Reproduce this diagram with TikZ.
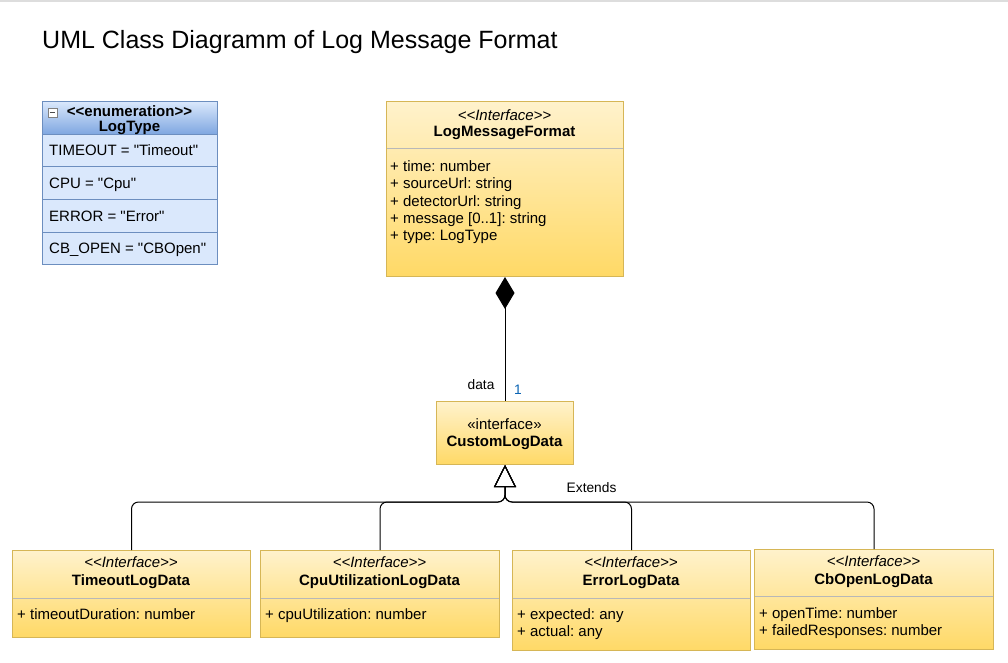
\documentclass[tikz,border=0pt]{standalone}
\usepackage{fontspec}
\setmainfont{Liberation Sans}[Ligatures=TeXOff]
\frenchspacing
\usetikzlibrary{arrows.meta,calc}
\definecolor{yTop}{HTML}{FFF2CC}
\definecolor{yBot}{HTML}{FFD966}
\definecolor{yStroke}{HTML}{D6B656}
\definecolor{sepGray}{HTML}{B8B8B8}
\definecolor{bTop}{HTML}{DAE8FC}
\definecolor{bBot}{HTML}{7EA6E0}
\definecolor{bStroke}{HTML}{6C8EBF}
\definecolor{topLine}{HTML}{DDDDDD}
\definecolor{multBlue}{HTML}{0A64B4}
\begin{document}
\begin{tikzpicture}[x=1pt,y=-1pt,
  ybox/.style={draw=yStroke, line width=1pt, top color=yTop, bottom color=yBot, rectangle, inner sep=0, anchor=north west},
  bhead/.style={draw=bStroke, line width=1pt, top color=bTop, bottom color=bBot, rectangle, inner sep=0, anchor=north west},
  brow/.style={draw=bStroke, line width=1pt, fill=bTop, rectangle, inner sep=0, anchor=north west},
  sepline/.style={draw=sepGray, line width=1pt},
  txt/.style={font=\fontsize{15}{18}\selectfont, inner sep=0, anchor=base},
  ltxt/.style={font=\fontsize{15}{18}\selectfont, inner sep=0, anchor=base west},
  stereo/.style={txt, font=\fontsize{15}{18}\selectfont\itshape},
  cname/.style={txt, font=\fontsize{15}{18}\selectfont\bfseries},
  small/.style={font=\fontsize{13.75}{16}\selectfont, inner sep=0, anchor=base west},
  conn/.style={draw=black, line width=1pt},
]
\useasboundingbox (0,0) rectangle (1008,662);
\fill[white] (0,0) rectangle (1008,662);
\fill[topLine] (0,0) rectangle (1008,2);

% title
\node[ltxt, font=\fontsize{25}{30}\selectfont] (title) at (42,48.5) {UML Class Diagramm of Log Message Format};

% enumeration LogType
\node[brow, minimum width=175pt, minimum height=32pt] (enumr1) at (42,134) {};
\node[brow, minimum width=175pt, minimum height=33pt] (enumr2) at (42,166) {};
\node[brow, minimum width=175pt, minimum height=33pt] (enumr3) at (42,199) {};
\node[brow, minimum width=175pt, minimum height=32pt] (enumr4) at (42,232) {};
\node[bhead, minimum width=175pt, minimum height=33pt] (enumhd) at (42,101) {};
\node[draw=gray, fill=white, line width=0.6pt, minimum width=9pt, minimum height=9pt, inner sep=0, anchor=north west] (minusbox) at (47.5,108) {};
\draw[black!70, line width=1.2pt] ($(minusbox.west)+(2,0)$) -- ($(minusbox.east)+(-2,0)$);
\node[cname] (enumst) at (129.5,116) {<<enumeration>>};
\node[cname] (enumnm) at (129.5,131) {LogType};
\node[ltxt] (e1) at (49,155.5) {TIMEOUT = "Timeout"};
\node[ltxt] (e2) at (49,188) {CPU = "Cpu"};
\node[ltxt] (e3) at (49,221) {ERROR = "Error"};
\node[ltxt] (e4) at (49,253.5) {CB\_OPEN = "CBOpen"};

% LogMessageFormat
\node[ybox, minimum width=237pt, minimum height=175pt] (lmf) at (386,101) {};
\draw[sepline] (386.5,148) -- (622.5,148);
\node[stereo] (lmfst) at (504.5,120) {<<Interface>>};
\node[cname] (lmfnm) at (504.5,136.5) {LogMessageFormat};
\node[ltxt] (a1) at (390,171.5) {+ time: number};
\node[ltxt] (a2) at (390,188.8) {+ sourceUrl: string};
\node[ltxt] (a3) at (390,206.1) {+ detectorUrl: string};
\node[ltxt] (a4) at (390,223.4) {+ message [0..1]: string};
\node[ltxt] (a5) at (390,240.7) {+ type: LogType};

% CustomLogData
\node[ybox, minimum width=137pt, minimum height=63pt] (custom) at (436,401) {};
\node[txt] (custst) at (504.5,429.3) {«interface»};
\node[cname] (custnm) at (504.5,446.7) {CustomLogData};

% composition
\draw[conn, {Diamond[length=32pt,width=19pt]}-] (lmf.south) -- (custom.north);
\node[small] (datalbl) at (467.5,389) {data};
\node[small, text=multBlue] (multlbl) at (514,394) {1};

% bottom classes
\node[ybox, minimum width=238pt, minimum height=87pt] (timeout) at (12,550) {};
\draw[sepline] (12.5,598) -- (249.5,598);
\node[stereo] (tost) at (131,567.5) {<<Interface>>};
\node[cname] (tonm) at (131,585.5) {TimeoutLogData};
\node[ltxt] (toa1) at (17,619.3) {+ timeoutDuration: number};

\node[ybox, minimum width=239pt, minimum height=87pt] (cpu) at (260,550) {};
\draw[sepline] (260.5,598) -- (498.5,598);
\node[stereo] (cpust) at (379.5,567.5) {<<Interface>>};
\node[cname] (cpunm) at (379.5,585.5) {CpuUtilizationLogData};
\node[ltxt] (cpua1) at (265,619.3) {+ cpuUtilization: number};

\node[ybox, minimum width=238pt, minimum height=100pt] (error) at (512,550) {};
\draw[sepline] (512.5,598) -- (749.5,598);
\node[stereo] (errst) at (631,567.5) {<<Interface>>};
\node[cname] (errnm) at (631,585.5) {ErrorLogData};
\node[ltxt] (erra1) at (517,619.3) {+ expected: any};
\node[ltxt] (erra2) at (517,636.8) {+ actual: any};

\node[ybox, minimum width=239pt, minimum height=100pt] (cbopen) at (754,549) {};
\draw[sepline] (754.5,596) -- (992.5,596);
\node[stereo] (cbst) at (873.5,566.7) {<<Interface>>};
\node[cname] (cbnm) at (873.5,584) {CbOpenLogData};
\node[ltxt] (cba1) at (759,618.3) {+ openTime: number};
\node[ltxt] (cba2) at (759,635.7) {+ failedResponses: number};

% generalization
\path (custom.south) ++(0,37) coordinate (jn);
\foreach \c in {timeout,cpu,error,cbopen}{
  \draw[conn, rounded corners=7pt, -{Triangle[open,length=22pt,width=22pt]}] (\c.north) |- (jn) -- (custom.south);
}
\node[small] (extlbl) at (566.5,492) {Extends};
\end{tikzpicture}
\end{document}
